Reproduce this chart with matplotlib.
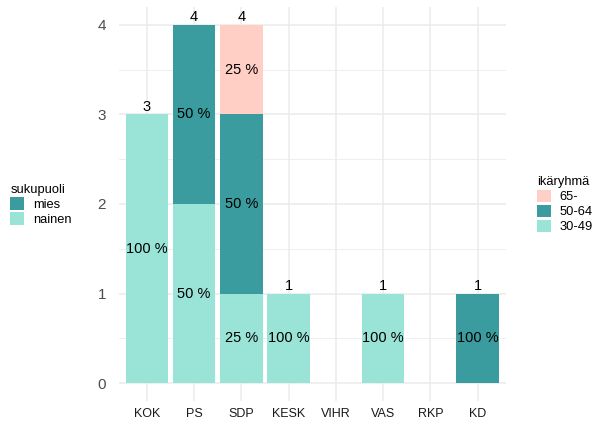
import numpy as np
import matplotlib
matplotlib.use("Agg")
import matplotlib.pyplot as plt
from matplotlib.patches import Patch
from matplotlib.ticker import MultipleLocator

plt.rcParams['font.family'] = ['Liberation Sans', 'DejaVu Sans']

# data
parties = ['KOK', 'PS', 'SDP', 'KESK', 'VIHR', 'VAS', 'RKP', 'KD']
n_3049 = [3, 2, 1, 1, 0, 1, 0, 0]
n_5064 = [0, 2, 2, 0, 0, 0, 0, 1]
n_65 = [0, 0, 1, 0, 0, 0, 0, 0]
age_groups = ['30-49', '50-64', '65-']
gender_labels = ['mies', 'nainen']

c_light = '#99E3D7'
c_dark = '#3A9C9E'
c_pink = '#FFCEC5'
grid_col = '#EBEBEB'

fig = plt.figure(figsize=(6.01, 4.23), dpi=100)
ax = fig.add_axes([0.1973, 0.052, 0.6446, 0.9315])

x = np.arange(1, len(parties) + 1)
stacks = [(n_3049, c_light), (n_5064, c_dark), (n_65, c_pink)]
totals = np.array(n_3049) + np.array(n_5064) + np.array(n_65)

bottom = np.zeros(len(parties))
for vals, col in stacks:
    vals = np.array(vals, dtype=float)
    ax.bar(x, vals, width=0.9, bottom=bottom, color=col, zorder=2)
    for i in range(len(parties)):
        if vals[i] > 0:
            pct = int(round(vals[i] / totals[i] * 100))
            ax.text(x[i], bottom[i] + vals[i] / 2, f'{pct} %', ha='center', va='center',
                    fontsize=10.5, color='black', zorder=3)
    bottom += vals

for i in range(len(parties)):
    if totals[i] > 0:
        ax.text(x[i], totals[i] + 0.005, str(totals[i]), ha='center', va='bottom',
                fontsize=10.5, color='black', zorder=3)

ax.set_xlim(0.4, len(parties) + 0.6)
ax.set_ylim(-0.2, 4.2)
ax.set_xticks(x)
ax.set_xticklabels(parties)
ax.set_yticks([0, 1, 2, 3, 4])
ax.yaxis.set_minor_locator(MultipleLocator(0.5))
ax.grid(True, which='major', color=grid_col, lw=1.1, zorder=0)
ax.grid(True, which='minor', axis='y', color=grid_col, lw=0.6, zorder=0)
ax.set_axisbelow(True)
for s in ax.spines.values():
    s.set_visible(False)
ax.tick_params(axis='both', which='both', length=0)
ax.tick_params(axis='x', pad=5, labelsize=9, labelcolor='#1A1A1A')
ax.tick_params(axis='y', pad=9, labelsize=11, labelcolor='#4D4D4D')

# legends
leg_kw = dict(loc='center left', frameon=False, fontsize=9.3, title_fontsize=9.3,
              alignment='left', handlelength=1.1, handleheight=1.1,
              handletextpad=0.65, labelspacing=0.12, borderpad=0, borderaxespad=0)
h_gender = [Patch(facecolor=c_dark), Patch(facecolor=c_light)]
leg1 = fig.legend(h_gender, gender_labels, title='sukupuoli',
                  bbox_to_anchor=(0.017, 0.516), **leg_kw)
h_age = [Patch(facecolor=c_pink), Patch(facecolor=c_dark), Patch(facecolor=c_light)]
leg2 = fig.legend(h_age, age_groups[::-1], title='ikäryhmä',
                  bbox_to_anchor=(0.893, 0.516), **leg_kw)

fig.savefig('out.png', dpi=100)
